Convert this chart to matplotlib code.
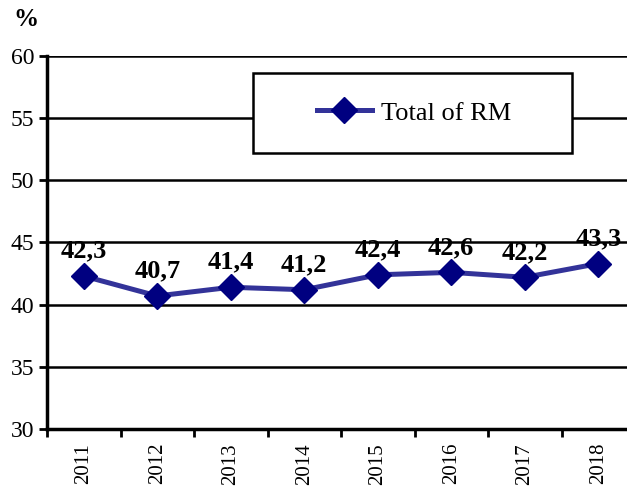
import matplotlib
matplotlib.use("Agg")
import matplotlib.pyplot as plt
from matplotlib.patches import Rectangle
import numpy as np

years = ["2011", "2012", "2013", "2014", "2015", "2016", "2017", "2018"]
values = [42.3, 40.7, 41.4, 41.2, 42.4, 42.6, 42.2, 43.3]
labels = ["42,3", "40,7", "41,4", "41,2", "42,4", "42,6", "42,2", "43,3"]
series_name = "Total of RM"
yticks = [30, 35, 40, 45, 50, 55, 60]

plt.rcParams['font.family'] = ['Liberation Serif', 'DejaVu Serif']

fig = plt.figure(figsize=(6.27, 4.86), dpi=100)
ax = fig.add_axes([47/627, 57/486, (635-47)/627, (429-56)/486])

x = np.arange(len(years))
ax.plot(x, values, color='#333399', lw=3.6, marker='D', ms=13.5,
        mfc='#000080', mec='#000080', label=series_name, zorder=4, clip_on=False)
for xi, v, lab in zip(x, values, labels):
    ax.annotate(lab, (xi, v), xytext=(0, 18), textcoords='offset points',
                ha='center', va='center', fontsize=19, fontweight='bold', zorder=5)

ax.set_xlim(-0.5, len(years) - 0.5)
ax.set_ylim(30, 60)
ax.set_yticks(yticks)
ax.set_yticklabels([str(t) for t in yticks], fontsize=17)
ax.yaxis.grid(True, color='black', lw=1.8)
ax.set_axisbelow(True)
ax.set_xticks(x)
ax.set_xticklabels(years, rotation=90, fontsize=15)
ax.set_xticks(np.arange(-0.5, len(years), 1), minor=True)
ax.tick_params(axis='x', which='major', length=0, pad=10)
ax.tick_params(axis='x', which='minor', length=6, width=2, direction='out')
ax.tick_params(axis='y', length=6, width=2, direction='out', pad=3)
for s in ['top', 'right']:
    ax.spines[s].set_visible(False)
ax.spines['left'].set_linewidth(2.5)
ax.spines['bottom'].set_linewidth(2.5)

rect = Rectangle((253/627, (486-153)/486), (572-253)/627, (153-73)/486,
                 transform=fig.transFigure, facecolor='white', edgecolor='black',
                 lw=1.8, zorder=10)
fig.patches.append(rect)
leg = fig.legend(loc='center', bbox_to_anchor=(414/627, (486-113)/486),
                 frameon=False, fontsize=19, handlelength=2.1, handletextpad=0.35)
leg.set_zorder(11)

fig.text(13/627, (486-19)/486, "%", fontsize=18, fontweight='bold', va='center', ha='left')

fig.savefig("out.png", dpi=100)
